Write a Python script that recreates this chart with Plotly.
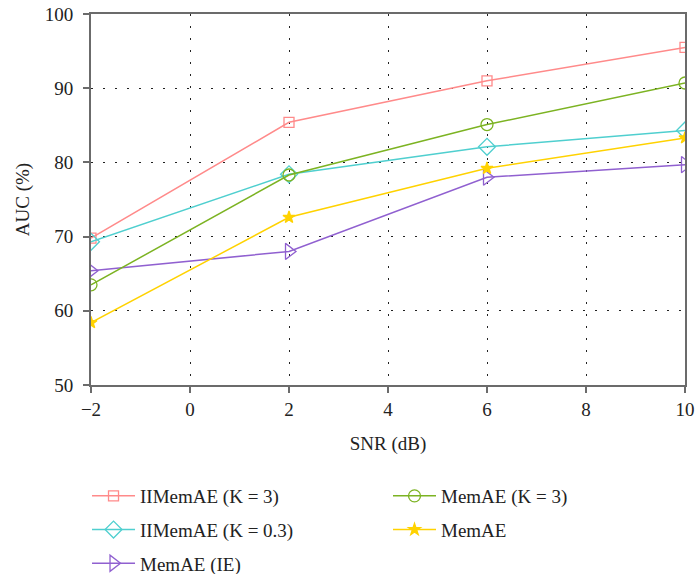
import plotly.graph_objects as go

snr = [-2, 2, 6, 10]
iimemae_k3 = [69.8, 85.4, 91.0, 95.5]
memae_k3 = [63.5, 78.3, 85.1, 90.7]
iimemae_k03 = [69.3, 78.4, 82.1, 84.3]
memae = [58.4, 72.6, 79.2, 83.3]
memae_ie = [65.4, 68.0, 78.0, 79.7]

x_ticks = [-2, 0, 2, 4, 6, 8, 10]
x_labels = ["\u22122", "0", "2", "4", "6", "8", "10"]
y_ticks = [50, 60, 70, 80, 90, 100]

series = [
    ("IIMemAE (K = 3)", iimemae_k3, "#FF8A8A", "square-open", 10, "legend"),
    ("IIMemAE (K = 0.3)", iimemae_k03, "#4FCFCF", "diamond-open", 13, "legend"),
    ("MemAE (IE)", memae_ie, "#9060D0", "triangle-right-open", 14, "legend"),
    ("MemAE (K = 3)", memae_k3, "#7CB322", "circle-open", 12, "legend2"),
    ("MemAE", memae, "#FFD200", "star", 9, "legend2"),
]

fig = go.Figure()
for name, vals, color, sym, size, leg in series:
    fig.add_trace(go.Scatter(
        x=snr, y=vals, name=name, mode="lines+markers",
        line=dict(color=color, width=1.5),
        marker=dict(symbol=sym, size=size, color=color,
                    line=dict(color=color, width=1.3)),
        legend=leg, legendgroup=name,
    ))

font_family = "Liberation Serif"
txt_color = "#222222"
axis_common = dict(
    showline=True, mirror=True, linecolor="#6b6b6b", linewidth=1.8,
    ticks="outside", ticklen=6, tickcolor="#6b6b6b", tickwidth=1.5,
    showgrid=True, gridcolor="#222222", gridwidth=1, griddash="2px,10px",
    zeroline=False,
    tickfont=dict(family=font_family, size=19, color=txt_color),
)

fig.update_xaxes(range=[-2, 10], tickvals=x_ticks, ticktext=x_labels,
                 title=dict(text="SNR (dB)", font=dict(family=font_family, size=19, color=txt_color), standoff=18),
                 **axis_common)
fig.update_yaxes(range=[50, 100], tickvals=y_ticks, ticklabelstandoff=6,
                 title=dict(text="AUC (%)", font=dict(family=font_family, size=19, color=txt_color), standoff=10),
                 **axis_common)

leg_common = dict(orientation="v", xanchor="left", yanchor="top", y=-0.248,
                  font=dict(family=font_family, size=19, color=txt_color),
                  itemwidth=43, tracegroupgap=6, bgcolor="rgba(0,0,0,0)")

fig.update_layout(
    width=695, height=574,
    margin=dict(l=91, r=10, t=14, b=189, autoexpand=False),
    plot_bgcolor="white", paper_bgcolor="white",
    font=dict(family=font_family, size=19, color=txt_color),
    legend=dict(x=-0.0067, **leg_common),
    legend2=dict(x=0.5, **leg_common),
    showlegend=True,
)

fig.write_html("out.html")
